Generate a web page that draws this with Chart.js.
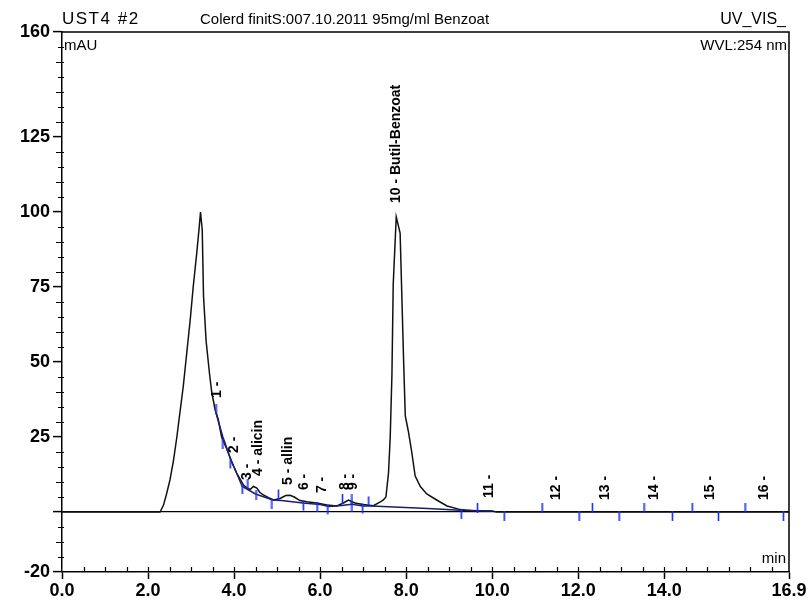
<!DOCTYPE html>
<html>
<head>
<meta charset="utf-8">
<script src="https://cdn.jsdelivr.net/npm/chart.js@4.4.1/dist/chart.umd.min.js"></script>
<style>
  html, body { margin: 0; padding: 0; background: #fff; }
  #wrap { width: 812px; height: 601px; }
</style>
</head>
<body>
<div id="wrap"><canvas id="chromatogram" width="812" height="601"></canvas></div>
<script>
// signal trace, time in min / absorbance in mAU
const signalTime = [0, 2.0, 2.28, 2.36, 2.43, 2.51, 2.59, 2.67, 2.74, 2.82, 2.90, 2.98, 3.05, 3.13, 3.19, 3.22,
  3.26, 3.29, 3.35, 3.43, 3.48, 3.56, 3.63, 3.71, 3.83, 3.95, 4.06, 4.14, 4.22, 4.30, 4.37, 4.45, 4.53, 4.60,
  4.68, 4.80, 4.92, 5.07, 5.20, 5.30, 5.40, 5.53, 5.69, 5.92, 6.16, 6.39, 6.54, 6.66, 6.81, 7.00, 7.24, 7.40,
  7.47, 7.53, 7.59, 7.63, 7.67, 7.70, 7.77, 7.86, 7.90, 7.94, 7.98, 8.05, 8.13, 8.21, 8.33, 8.48, 8.71, 8.95,
  9.26, 9.60, 10.0, 10.1, 12.0, 16.9];
const signalValue = [0, 0, 0, 2.3, 6, 10.7, 17, 25, 33, 42, 53, 64, 75, 86, 95, 100,
  94, 72, 57, 46, 40, 34, 31, 25, 21, 16.5, 13, 11, 9, 8, 7.5, 8.5, 8, 6.5,
  5.7, 4.8, 4, 4.5, 5.5, 5.6, 5, 3.8, 3.4, 3, 2.3, 2, 3, 4, 3, 2.5, 2.1, 3.4,
  4, 5, 13, 25, 46, 76, 98.4, 93, 72, 51, 32, 27, 20, 12, 8.5, 6, 4, 2,
  0.8, 0.3, 0.3, 0, 0, 0];

// integration baseline
const baseTime = [3.58, 3.74, 3.91, 4.19, 4.50, 4.90, 5.10, 5.60, 6.00, 6.20, 6.50, 6.74, 7.00, 7.20, 8.50, 9.26, 10.0];
const baseValue = [33, 25, 18, 8.5, 6, 4, 3.8, 3, 2.5, 1.8, 2.2, 2.6, 2, 2, 1.2, 0.6, 0.3];

// peak delimiters (blue ticks)
const markUpTime = [3.58, 4.32, 5.03, 6.52, 6.74, 7.13, 9.66, 11.16, 12.33, 13.53, 14.65, 15.88];
const markUpValue = [33, 8, 4.5, 3, 3, 2.2, 0, 0, 0, 0, 0, 0];
const markDownTime = [3.74, 3.91, 4.19, 4.51, 4.88, 5.61, 5.93, 6.18, 6.74, 6.99, 9.28, 10.28, 12.02, 12.95, 14.19, 15.26, 16.77];
const markDownValue = [24, 17.5, 9, 7, 4, 3.5, 3, 2.2, 3, 2.5, 0.7, 0, 0, 0, 0, 0, 0];

// peak table
const peakNumber = [1, 2, 3, 4, 5, 6, 7, 8, 9, 10, 11, 12, 13, 14, 15, 16];
const peakName = ['', '', '', 'alicin', 'allin', '', '', '', '', 'Butil-Benzoat', '', '', '', '', '', ''];
const peakTime = [3.60, 4.00, 4.30, 4.55, 5.25, 5.63, 6.05, 6.58, 6.77, 7.77, 9.93, 11.49, 12.63, 13.77, 15.07, 16.33];
const labelLevel = [38, 19.7, 10.7, 12, 9, 7.3, 6.3, 7.3, 7.3, 103, 4.7, 4, 4, 4, 4, 4];

const yTickValues = [160, 125, 100, 75, 50, 25, 0, -20];
const xTickValues = [0, 2, 4, 6, 8, 10, 12, 14, 16.9];

const FONT = '"Liberation Sans", Arial, sans-serif';

function pts(xs, ys) {
  return xs.map((x, i) => ({ x: x, y: ys[i] }));
}

function tickImage(up) {
  const c = document.createElement('canvas');
  c.width = 3;
  c.height = 20;
  const g = c.getContext('2d');
  g.strokeStyle = '#1a2ef0';
  g.lineWidth = 1.6;
  g.beginPath();
  g.moveTo(1.5, up ? 1 : 9);
  g.lineTo(1.5, up ? 11 : 19);
  g.stroke();
  return c;
}

const decorations = {
  id: 'decorations',
  afterDraw(chart) {
    const ctx = chart.ctx;
    const a = chart.chartArea;
    const xs = chart.scales.x;
    const ys = chart.scales.y;

    ctx.save();
    // frame
    ctx.strokeStyle = '#000';
    ctx.lineWidth = 1.5;
    ctx.beginPath();
    ctx.moveTo(a.left, a.top);
    ctx.lineTo(a.right, a.top);
    ctx.lineTo(a.right, a.bottom);
    ctx.stroke();

    // minor ticks
    ctx.lineWidth = 1.2;
    ctx.beginPath();
    for (let v = -15; v < 160; v += 5) {
      if (yTickValues.includes(v)) continue;
      const y = Math.round(ys.getPixelForValue(v)) + 0.5;
      ctx.moveTo(a.left - (v % 10 === 0 ? 6 : 4), y);
      ctx.lineTo(a.left + 2, y);
    }
    for (let t = 0.5; t < 16.9; t += 0.5) {
      const x = Math.round(xs.getPixelForValue(t)) + 0.5;
      ctx.moveTo(x, a.bottom);
      ctx.lineTo(x, a.bottom - 5);
    }
    ctx.stroke();

    // header
    ctx.fillStyle = '#000';
    ctx.textBaseline = 'alphabetic';
    ctx.font = '17px ' + FONT;
    ctx.textAlign = 'left';
    ctx.letterSpacing = '1.5px';
    ctx.fillText('UST4 #2', 62, 24);
    ctx.letterSpacing = '0px';
    ctx.font = '15px ' + FONT;
    ctx.fillText('Colerd finitS:007.10.2011 95mg/ml Benzoat', 200, 24);
    ctx.font = '16px ' + FONT;
    ctx.textAlign = 'right';
    ctx.fillText('UV_VIS_', 786, 24);

    ctx.font = '15px ' + FONT;
    ctx.textAlign = 'left';
    ctx.fillText('mAU', 64, 50);
    ctx.textAlign = 'right';
    ctx.fillText('WVL:254 nm', 787, 50);
    ctx.fillText('min', 786, 563);

    // peak labels
    ctx.font = 'bold 14px ' + FONT;
    ctx.textAlign = 'left';
    ctx.textBaseline = 'middle';
    peakNumber.forEach((n, i) => {
      const text = (n + ' - ' + peakName[i]).trim();
      const x = xs.getPixelForValue(peakTime[i]);
      const y = ys.getPixelForValue(labelLevel[i]);
      ctx.save();
      ctx.translate(x, y);
      ctx.rotate(-Math.PI / 2);
      ctx.fillText(text, 0, 0);
      ctx.restore();
    });
    ctx.restore();
  }
};

new Chart(document.getElementById('chromatogram'), {
  type: 'line',
  data: {
    datasets: [
      {
        data: pts(markUpTime, markUpValue),
        showLine: false,
        pointStyle: tickImage(true),
        pointRadius: 3,
        order: 0
      },
      {
        data: pts(markDownTime, markDownValue),
        showLine: false,
        pointStyle: tickImage(false),
        pointRadius: 3,
        order: 0
      },
      {
        data: pts(signalTime, signalValue),
        borderColor: '#111',
        borderWidth: 1.5,
        pointRadius: 0,
        tension: 0,
        order: 2
      },
      {
        data: pts(baseTime, baseValue),
        borderColor: '#1c1c70',
        borderWidth: 1.5,
        pointRadius: 0,
        tension: 0,
        order: 1
      }
    ]
  },
  options: {
    responsive: false,
    animation: false,
    layout: { padding: { top: 32, right: 23, left: 0, bottom: 0 } },
    plugins: {
      legend: { display: false },
      tooltip: { enabled: false }
    },
    scales: {
      x: {
        type: 'linear',
        min: 0,
        max: 16.9,
        afterBuildTicks: s => { s.ticks = xTickValues.map(v => ({ value: v })); },
        afterFit: s => { s.height = 29; },
        ticks: {
          callback: v => v.toFixed(1),
          color: '#000',
          font: { family: FONT, size: 18, weight: 'bold' },
          padding: 1,
          maxRotation: 0,
          autoSkip: false
        },
        grid: { drawOnChartArea: false, tickLength: 7, tickColor: '#000', tickWidth: 1.5 },
        border: { color: '#000', width: 1.5 }
      },
      y: {
        type: 'linear',
        min: -20,
        max: 160,
        afterBuildTicks: s => { s.ticks = yTickValues.map(v => ({ value: v })); },
        afterFit: s => { s.width = 62; },
        ticks: {
          callback: v => (v === 0 ? '' : String(v)),
          color: '#000',
          font: { family: FONT, size: 18, weight: 'bold' },
          padding: 3,
          autoSkip: false
        },
        grid: {
          drawOnChartArea: true,
          color: c => (c.tick && c.tick.value === 0 ? '#000' : 'rgba(0,0,0,0)'),
          lineWidth: 1.2,
          tickLength: 9,
          tickColor: '#000',
          tickWidth: 1.5
        },
        border: { color: '#000', width: 1.5 }
      }
    }
  },
  plugins: [decorations]
});
</script>
</body>
</html>
